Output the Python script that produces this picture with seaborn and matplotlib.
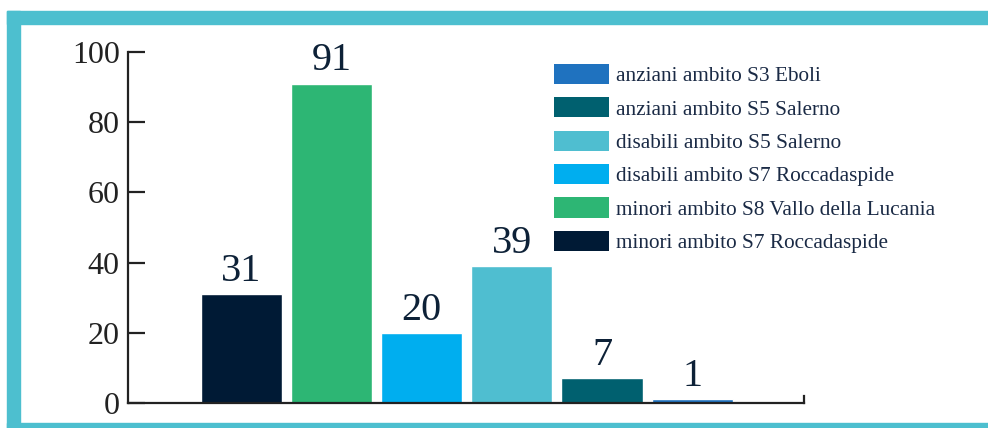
import matplotlib
matplotlib.use("Agg")
import matplotlib.pyplot as plt
import seaborn as sns
import pandas as pd
from matplotlib.patches import Patch, Rectangle

# bars, left to right
categories = [
    "minori ambito S7 Roccadaspide",
    "minori ambito S8 Vallo della Lucania",
    "disabili ambito S7 Roccadaspide",
    "disabili ambito S5 Salerno",
    "anziani ambito S5 Salerno",
    "anziani ambito S3 Eboli",
]
values = [31, 91, 20, 39, 7, 1]
colors = ["#001A35", "#2DB674", "#00AEEF", "#4FBED0", "#00606F", "#1F72BF"]
y_ticks = [0, 20, 40, 60, 80, 100]

sns.set_theme(style="white")
plt.rcParams["font.family"] = ["Liberation Serif", "DejaVu Serif"]

df = pd.DataFrame({"gruppo": categories, "valore": values})

fig = plt.figure(figsize=(9.88, 4.28), dpi=100)
ax = fig.add_axes([128 / 988, 25 / 428, 676 / 988, 351 / 428])

sns.barplot(data=df, x="gruppo", y="valore", hue="gruppo", palette=colors,
            dodge=False, legend=False, width=0.9, saturation=1, ax=ax)

for c in ax.containers:
    ax.bar_label(c, padding=3, fontsize=29, color="#0D2137")

ax.set_xlim(-1.255, 6.24)
ax.set_ylim(0, 100)
ax.set_yticks(y_ticks)
ax.set_xticks([])
ax.set_xlabel("")
ax.set_ylabel("")
ax.tick_params(axis="y", left=True, direction="in", length=12, width=1.6,
               color="#222222", labelsize=23, labelcolor="#222222", pad=6)

for side in ["left", "bottom", "right"]:
    ax.spines[side].set_color("#222222")
    ax.spines[side].set_linewidth(1.6)
ax.spines["top"].set_visible(False)
ax.spines["right"].set_bounds(0, 2)

# legend in reversed order
handles = [Patch(facecolor=col, edgecolor="none") for col in colors[::-1]]
fig.legend(handles, categories[::-1], loc="upper left",
           bbox_to_anchor=(554 / 988, 1 - 64 / 428), frameon=False,
           fontsize=15.3, labelcolor="#1A2A45", handlelength=2.6,
           handleheight=1.08, handletextpad=0.33, labelspacing=0.52,
           borderpad=0, borderaxespad=0)

# frame
frame = "#4DBFCF"
fig.patches.append(Rectangle((7 / 988, 1 - 24 / 428), 1, 13 / 428,
                             transform=fig.transFigure, color=frame, zorder=0))
fig.patches.append(Rectangle((7 / 988, 0), 13 / 988, 1 - 11 / 428,
                             transform=fig.transFigure, color=frame, zorder=0))
fig.patches.append(Rectangle((7 / 988, 0), 1, 5 / 428,
                             transform=fig.transFigure, color=frame, zorder=0))

fig.savefig("out.png", dpi=100)
